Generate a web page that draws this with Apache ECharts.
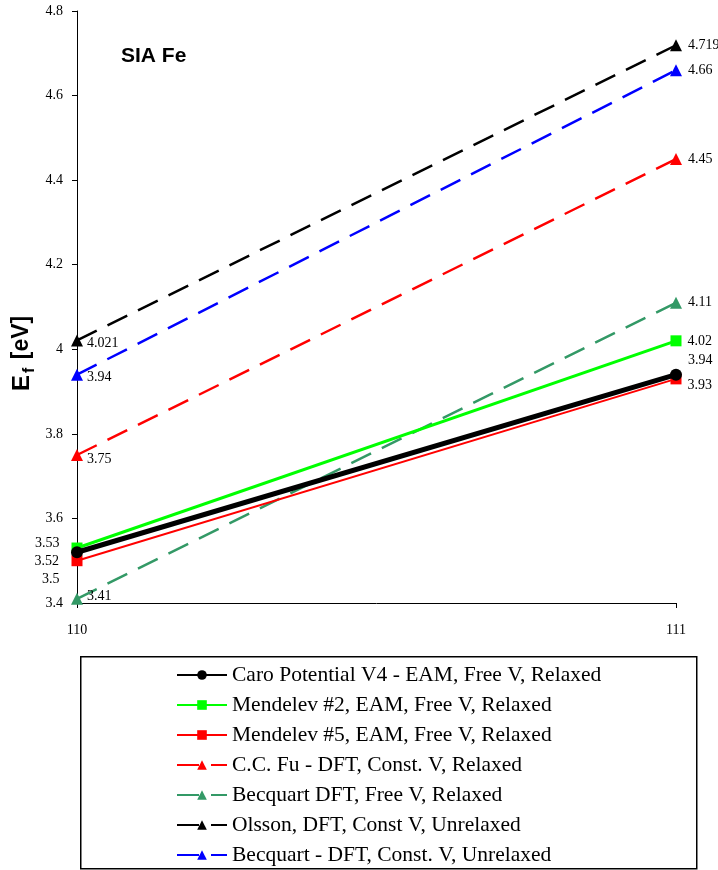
<!DOCTYPE html>
<html><head><meta charset="utf-8">
<script src="https://cdn.jsdelivr.net/npm/echarts@6/dist/echarts.min.js"></script>
<style>html,body{margin:0;padding:0;background:#fff}#c{width:718px;height:870px}</style>
</head><body><div id="c"></div>
<script>
const categories = ['110', '111'];
const seriesNames = [
  'Caro Potential V4 - EAM, Free V, Relaxed',
  'Mendelev #2, EAM, Free V, Relaxed',
  'Mendelev #5, EAM, Free V, Relaxed',
  'C.C. Fu - DFT, Const. V, Relaxed',
  'Becquart DFT, Free V, Relaxed',
  'Olsson, DFT, Const V, Unrelaxed',
  'Becquart - DFT, Const. V, Unrelaxed'
];
const caro = [3.52, 3.94];
const mendelev2 = [3.53, 4.02];
const mendelev5 = [3.50, 3.93];
const ccfu = [3.75, 4.45];
const becquartFree = [3.41, 4.11];
const olsson = [4.021, 4.719];
const becquartConst = [3.94, 4.66];
const labelTexts = [
  ['3.52', '3.94'], ['3.53', '4.02'], ['3.5', '3.93'], ['3.75', '4.45'],
  ['3.41', '4.11'], ['4.021', '4.719'], ['3.94', '4.66']
];
const yTicks = { min: 3.4, max: 4.8, interval: 0.2 };

const serif = 'Liberation Serif';
const dash = [22, 12];
const styles = [
  { color: '#000000', width: 5, type: 'solid', symbol: 'circle', size: 12, z: 10,
    lab: [{ position: 'left', offset: [-6, 9] }, { position: 'right', offset: [0, -14] }] },
  { color: '#00ff00', width: 3, type: 'solid', symbol: 'rect', size: 11, z: 5,
    lab: [{ position: 'left', offset: [-6, -5] }, { position: 'right', offset: [0, 0] }] },
  { color: '#ff0000', width: 2, type: 'solid', symbol: 'rect', size: 11, z: 6,
    lab: [{ position: 'left', offset: [-6, 19] }, { position: 'right', offset: [0, 6] }] },
  { color: '#ff0000', width: 2.5, type: dash, symbol: 'triangle', size: 12, z: 4,
    lab: [{ position: 'right', offset: [-2, 4] }, { position: 'right', offset: [0, 0] }] },
  { color: '#339966', width: 2.5, type: dash, symbol: 'triangle', size: 12, z: 4,
    lab: [{ position: 'right', offset: [-2, -2] }, { position: 'right', offset: [0, 0] }] },
  { color: '#000000', width: 2.5, type: dash, symbol: 'triangle', size: 12, z: 4,
    lab: [{ position: 'right', offset: [-2, 3] }, { position: 'right', offset: [0, 0] }] },
  { color: '#0000ff', width: 2.5, type: dash, symbol: 'triangle', size: 12, z: 4,
    lab: [{ position: 'right', offset: [-2, 3] }, { position: 'right', offset: [0, 0] }] }
];
const values = [caro, mendelev2, mendelev5, ccfu, becquartFree, olsson, becquartConst];

const series = values.map((vals, i) => {
  const s = styles[i];
  return {
    name: seriesNames[i],
    type: 'line',
    z: s.z,
    symbol: s.symbol,
    symbolSize: s.size,
    lineStyle: { color: s.color, width: s.width, type: s.type },
    itemStyle: { color: s.color },
    animation: false,
    data: vals.map((v, j) => ({
      value: v,
      label: {
        show: true,
        position: s.lab[j].position,
        offset: s.lab[j].offset,
        distance: 6,
        formatter: () => labelTexts[i][j],
        fontFamily: serif, fontSize: 14, color: '#000'
      }
    }))
  };
});

const chart = echarts.init(document.getElementById('c'), null, { renderer: 'canvas' });
chart.setOption({
  backgroundColor: '#ffffff',
  animation: false,
  grid: { left: 77, right: 42, top: 11, bottom: 267, containLabel: false, outerBoundsMode: 'none' },
  title: {
    text: 'SIA Fe', left: 116, top: 41,
    textStyle: { fontFamily: 'Liberation Sans', fontWeight: 'bold', fontSize: 21, color: '#000' }
  },
  xAxis: {
    type: 'category', data: categories, boundaryGap: false,
    axisLine: { lineStyle: { color: '#000', width: 1 } },
    axisTick: { show: true, length: 5, alignWithLabel: true, lineStyle: { color: '#000' } },
    axisLabel: { fontFamily: serif, fontSize: 14, color: '#000', margin: 20 },
    splitLine: { show: false }
  },
  yAxis: {
    type: 'value', min: yTicks.min, max: yTicks.max, interval: yTicks.interval,
    axisLine: { show: true, lineStyle: { color: '#000', width: 1 } },
    axisTick: { show: true, length: 5, lineStyle: { color: '#000' } },
    axisLabel: { fontFamily: serif, fontSize: 14, color: '#000', margin: 14 },
    splitLine: { show: false }
  },
  legend: {
    orient: 'vertical', left: 176, top: 664, height: 210, padding: 0,
    itemWidth: 50, itemHeight: 12, itemGap: 8,
    textStyle: { fontFamily: serif, fontSize: 21.5, color: '#000', lineHeight: 22 },
    data: seriesNames
  },
  graphic: [{
    type: 'rect', left: 80, top: 656, z: -1,
    shape: { width: 616, height: 212 },
    style: { fill: '#fff', stroke: '#000', lineWidth: 1.5 }
  }, {
    type: 'text', x: 10, y: 391, rotation: Math.PI / 2,
    style: {
      text: '{e|E}{f|f}{u| [eV]}',
      rich: {
        e: { fontFamily: 'Liberation Sans', fontSize: 24, fontWeight: 'bold', fill: '#000', lineHeight: 28, verticalAlign: 'top' },
        f: { fontFamily: 'Liberation Sans', fontSize: 16, fontWeight: 'bold', fill: '#000', lineHeight: 28, verticalAlign: 'bottom', padding: [16, 2, 0, 2] },
        u: { fontFamily: 'Liberation Sans', fontSize: 23, fontWeight: 'bold', fill: '#000', lineHeight: 28, verticalAlign: 'top' }
      }
    }
  }],
  series: series
});
</script></body></html>
